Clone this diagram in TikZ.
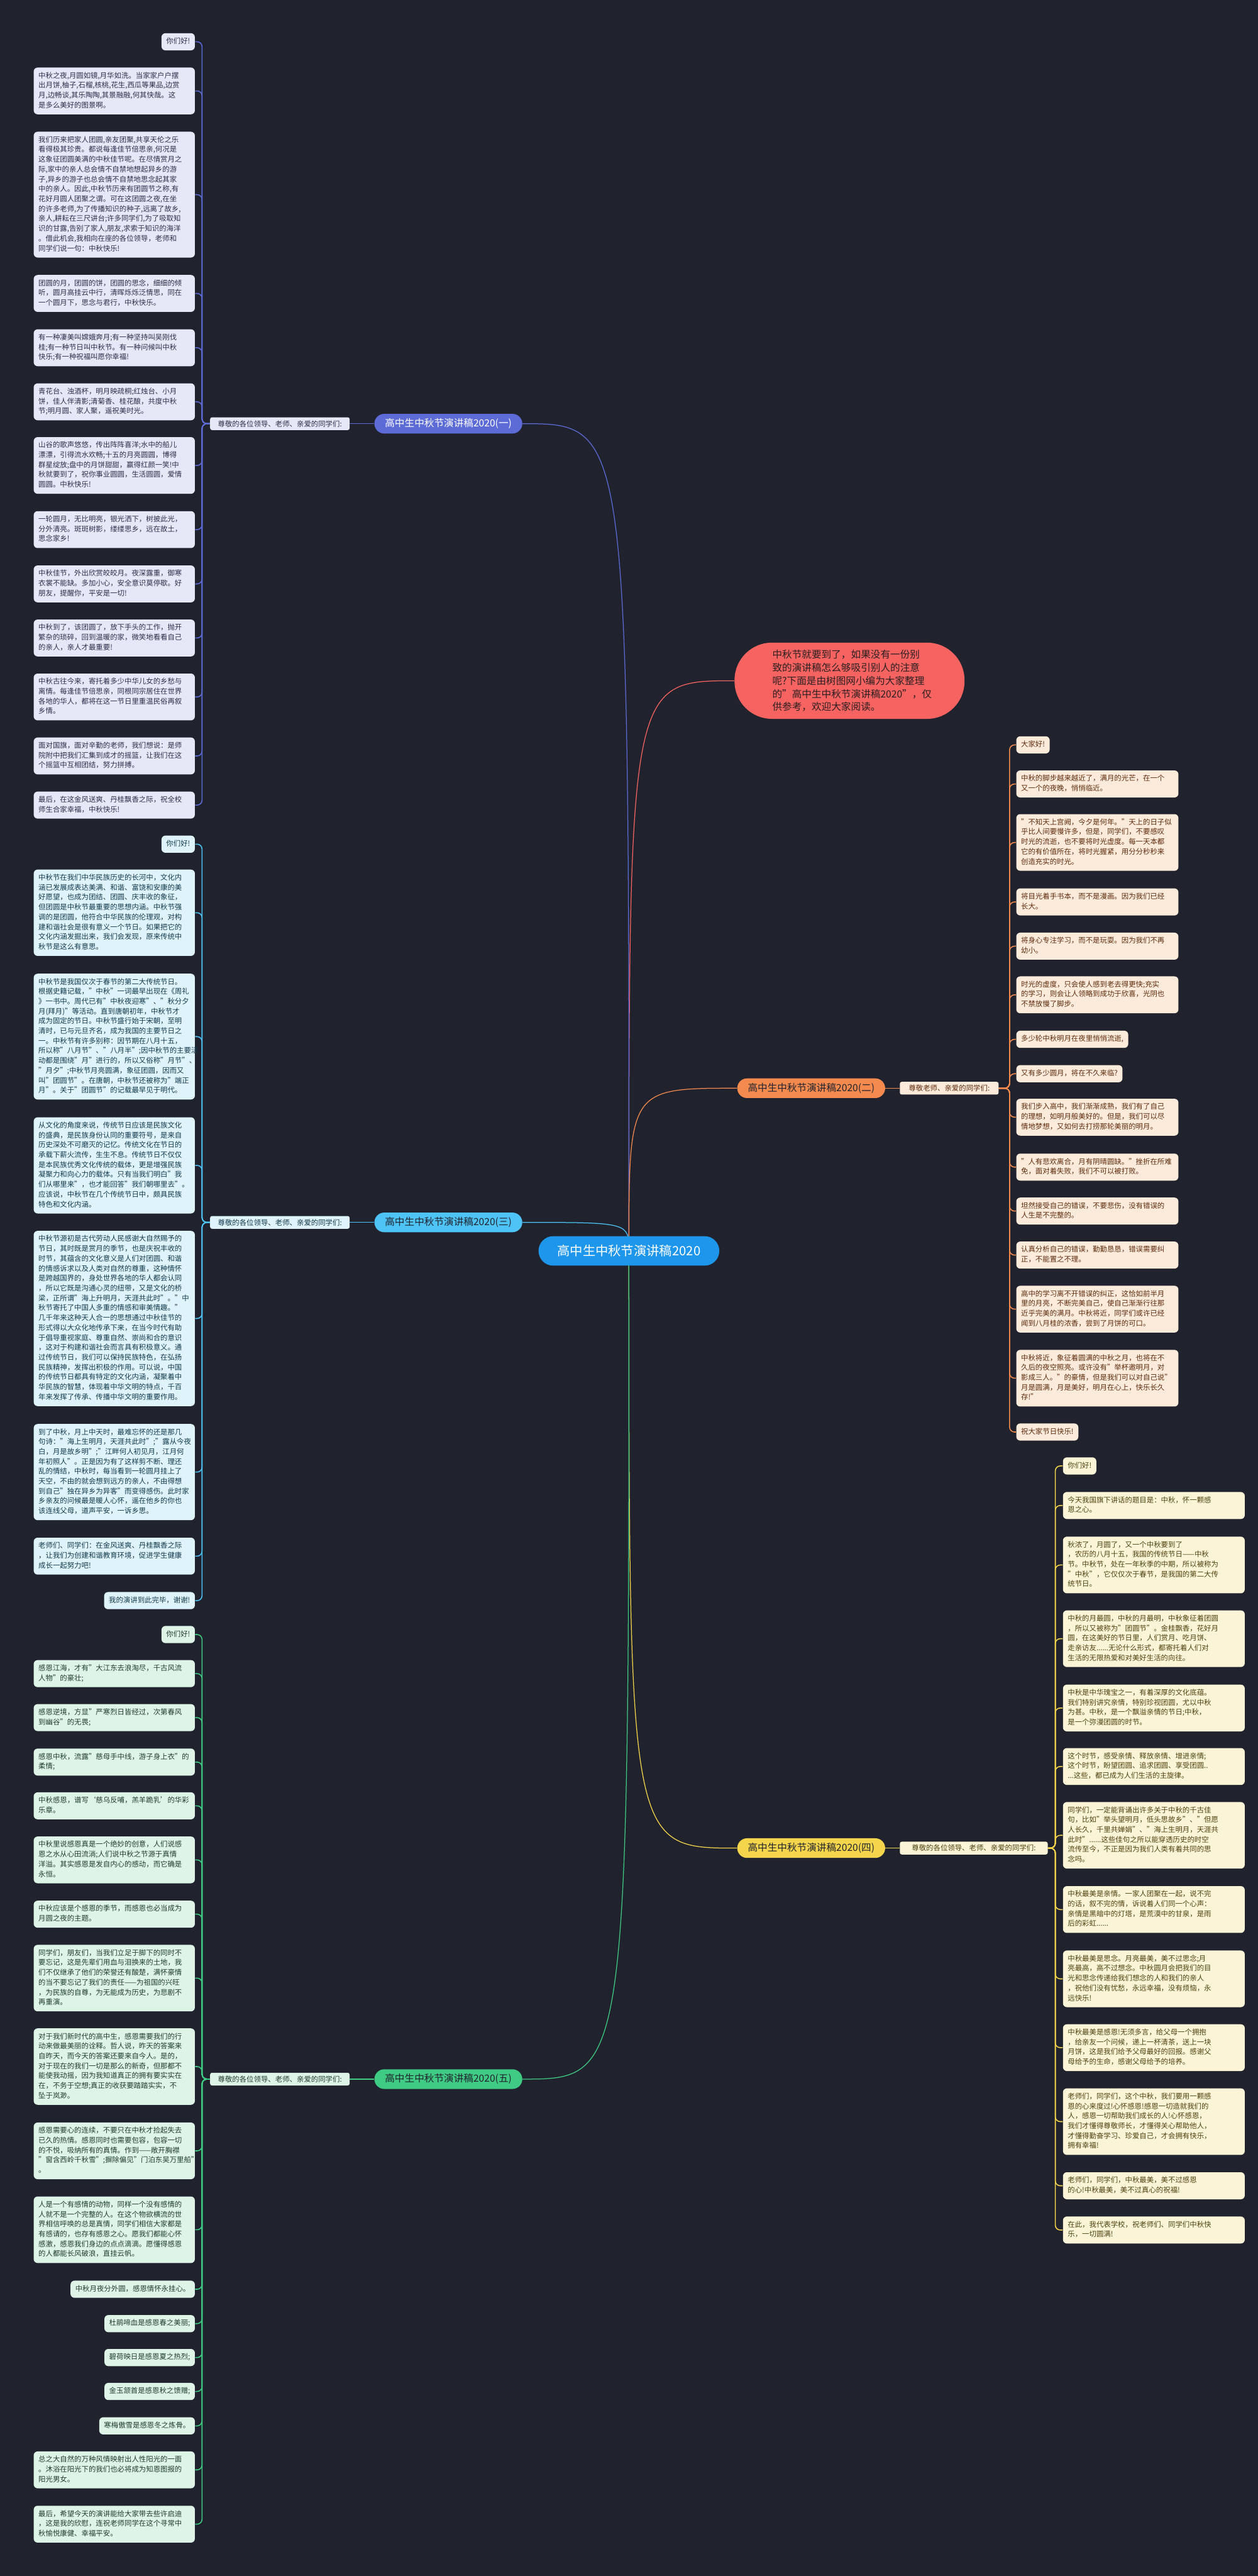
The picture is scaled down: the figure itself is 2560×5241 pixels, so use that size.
\documentclass[tikz,border=0pt]{standalone}
\usepackage{fontspec}
\setmainfont{Noto Sans CJK SC}
\usetikzlibrary{backgrounds}

\definecolor{bg}{HTML}{20232E}
\definecolor{rootc}{HTML}{1E96EB}
\definecolor{introc}{HTML}{F66360}
\definecolor{introtext}{HTML}{2A1F22}
\definecolor{oneline}{HTML}{5C6BD6}
\definecolor{onefill}{HTML}{E6E8F7}
\definecolor{onetext}{HTML}{2C2F4A}
\definecolor{twoline}{HTML}{F58A4F}
\definecolor{twofill}{HTML}{FCEADB}
\definecolor{twotext}{HTML}{5C2C0C}
\definecolor{threeline}{HTML}{4EC3F5}
\definecolor{threefill}{HTML}{DFF3FB}
\definecolor{threetext}{HTML}{123A4C}
\definecolor{fourline}{HTML}{F4D54B}
\definecolor{fourfill}{HTML}{FBF4D6}
\definecolor{fourtext}{HTML}{4D4210}
\definecolor{fiveline}{HTML}{3FCB84}
\definecolor{fivefill}{HTML}{DEF4E7}
\definecolor{fivetext}{HTML}{1F3D2C}

\tikzset{
    leaf/.style={rounded corners=4pt, inner xsep=4.85pt, inner ysep=3.7pt,
        align=left, font=\fontsize{7.3}{10.05}\selectfont,
        execute at begin node=\strut, execute at end node=\strut},
    leafL/.style={leaf, text width=154.3pt},
    leafR/.style={leaf, text width=155.3pt},
    leafW/.style={leaf, text width=175.3pt},
    greet/.style={rounded corners=2pt, inner xsep=6pt, inner ysep=1pt,
        minimum height=13pt, font=\fontsize{7.3}{10.05}\selectfont},
    branch/.style={rounded corners=10pt, minimum width=150.5pt,
        minimum height=20pt, inner sep=0pt, font=\fontsize{10}{12}\selectfont},
    secone/.style={fill=onefill, text=onetext},
    sectwo/.style={fill=twofill, text=twotext},
    secthree/.style={fill=threefill, text=threetext},
    secfour/.style={fill=fourfill, text=fourtext},
    secfive/.style={fill=fivefill, text=fivetext},
    link/.style={line width=1pt, rounded corners=5pt},
    stem/.style={line width=0.8pt}
}

\begin{document}
\begin{tikzpicture}[x=0.5pt, y=-0.5pt]
    \useasboundingbox (0,0) rectangle (2560,5241);

    % centre and intro
    \node [fill=rootc, text=white, rounded corners=15pt, minimum width=184pt,
        minimum height=30pt, font=\fontsize{13}{15}\selectfont]
        (root) at (1280,2545) {高中生中秋节演讲稿2020};
    \node [fill=introc, text=introtext, rounded corners=38pt, text width=157pt,
        inner xsep=38.5pt, minimum height=77.5pt, align=left,
        font=\fontsize{10}{13.35}\selectfont]
        (intro) at (1729,1385)
        {中秋节就要到了，如果没有一份别\\致的演讲稿怎么够吸引别人的注意\\呢?下面是由树图网小编为大家整理\\的"高中生中秋节演讲稿2020"，仅\\供参考，欢迎大家阅读。};

    % branches
    \node [branch, fill=oneline, text=white] (br1) at (912.5,862) {高中生中秋节演讲稿2020(一)};
    \node [branch, fill=twoline, text=bg] (br2) at (1651,2214) {高中生中秋节演讲稿2020(二)};
    \node [branch, fill=threeline, text=bg] (br3) at (912.5,2487) {高中生中秋节演讲稿2020(三)};
    \node [branch, fill=fourline, text=bg] (br4) at (1651,3760) {高中生中秋节演讲稿2020(四)};
    \node [branch, fill=fiveline, text=bg] (br5) at (912.5,4230) {高中生中秋节演讲稿2020(五)};

    \node [greet, secone, minimum width=142pt, anchor=east] (gr1) at (712,862) {尊敬的各位领导、老师、亲爱的同学们:};
    \node [greet, sectwo, minimum width=100.5pt, anchor=west] (gr2) at (1831,2214) {尊敬老师、亲爱的同学们:};
    \node [greet, secthree, minimum width=142pt, anchor=east] (gr3) at (712,2487) {尊敬的各位领导、老师、亲爱的同学们:};
    \node [greet, secfour, minimum width=150.5pt, anchor=west] (gr4) at (1831,3760) {尊敬的各位领导、老师、亲爱的同学们:};
    \node [greet, secfive, minimum width=142pt, anchor=east] (gr5) at (712,4230) {尊敬的各位领导、老师、亲爱的同学们:};

    % (一)
    \node [leaf, secone, anchor=east] (a1) at (397,85) {你们好!};
    \node [leafL, secone, anchor=east] (a2) at (397,185) {中秋之夜,月圆如镜,月华如洗。当家家户户摆\\出月饼,柚子,石榴,核桃,花生,西瓜等果品,边赏\\月,边畅谈,其乐陶陶,其景融融,何其快哉。这\\是多么美好的图景啊。};
    \node [leafL, secone, anchor=east] (a3) at (397,396) {我们历来把家人团圆,亲友团聚,共享天伦之乐\\看得极其珍贵。都说每逢佳节倍思亲,何况是\\这象征团圆美满的中秋佳节呢。在尽情赏月之\\际,家中的亲人总会情不自禁地想起异乡的游\\子,异乡的游子也总会情不自禁地思念起其家\\中的亲人。因此,中秋节历来有团圆节之称,有\\花好月圆人团聚之谓。可在这团圆之夜,在坐\\的许多老师,为了传播知识的种子,远离了故乡,\\亲人,耕耘在三尺讲台;许多同学们,为了吸取知\\识的甘露,告别了家人,朋友,求索于知识的海洋\\。借此机会,我相向在座的各位领导，老师和\\同学们说一句：中秋快乐!};
    \node [leafL, secone, anchor=east] (a4) at (397,597) {团圆的月，团圆的饼，团圆的思念，细细的倾\\听，圆月高挂云中行，清晖烁烁泛情思，同在\\一个圆月下，思念与君行，中秋快乐。};
    \node [leafL, secone, anchor=east] (a5) at (397,707.5) {有一种凄美叫嫦娥奔月;有一种坚持叫吴刚伐\\桂;有一种节日叫中秋节。有一种问候叫中秋\\快乐;有一种祝福叫愿你幸福!};
    \node [leafL, secone, anchor=east] (a6) at (397,817.5) {青花台、浊酒杯，明月映疏桐;红烛台、小月\\饼，佳人伴清影;清菊香、桂花酿，共度中秋\\节;明月圆、家人聚，遥祝美时光。};
    \node [leafL, secone, anchor=east] (a7) at (397,947) {山谷的歌声悠悠，传出阵阵喜洋;水中的船儿\\漂漂，引得流水欢畅;十五的月亮圆圆，博得\\群星绽放;盘中的月饼甜甜，赢得红颜一笑!中\\秋就要到了，祝你事业圆圆，生活圆圆，爱情\\圆圆。中秋快乐!};
    \node [leafL, secone, anchor=east] (a8) at (397,1077.5) {一轮圆月，无比明亮，银光洒下，树披此光，\\分外清亮。斑斑树影，缕缕思乡，远在故土，\\思念家乡!};
    \node [leafL, secone, anchor=east] (a9) at (397,1188) {中秋佳节，外出欣赏皎皎月。夜深露重，御寒\\衣裳不能缺。多加小心，安全意识莫停歇。好\\朋友，提醒你，平安是一切!};
    \node [leafL, secone, anchor=east] (a10) at (397,1298) {中秋到了，该团圆了，放下手头的工作，抛开\\繁杂的琐碎，回到温暖的家，微笑地看看自己\\的亲人，亲人才最重要!};
    \node [leafL, secone, anchor=east] (a11) at (397,1418) {中秋古往今来，寄托着多少中华儿女的乡愁与\\离情。每逢佳节倍思亲，同根同宗居住在世界\\各地的华人，都将在这一节日里重温民俗再叙\\乡情。};
    \node [leafL, secone, anchor=east] (a12) at (397,1538) {面对国旗，面对辛勤的老师，我们想说：是师\\院附中把我们汇集到成才的摇篮，让我们在这\\个摇篮中互相团结，努力拼搏。};
    \node [leafL, secone, anchor=east] (a13) at (397,1638) {最后，在这金风送爽、丹桂飘香之际，祝全校\\师生合家幸福，中秋快乐!};

    % (三)
    \node [leaf, secthree, anchor=east] (c1) at (397,1717.5) {你们好!};
    \node [leafL, secthree, anchor=east] (c2) at (397,1857) {中秋节在我们中华民族历史的长河中，文化内\\涵已发展成表达美满、和谐、富饶和安康的美\\好愿望，也成为团结、团圆、庆丰收的象征，\\但团圆是中秋节最重要的思想内涵。中秋节强\\调的是团圆，他符合中华民族的伦理观，对构\\建和谐社会是很有意义一个节日。如果把它的\\文化内涵发掘出来，我们会发现，原来传统中\\秋节是这么有意思。};
    \node [leafL, secthree, anchor=east] (c3) at (397,2109) {中秋节是我国仅次于春节的第二大传统节日。\\根据史籍记载，"中秋"一词最早出现在《周礼\\》一书中。周代已有"中秋夜迎寒"、"秋分夕\\月(拜月)"等活动。直到唐朝初年，中秋节才\\成为固定的节日。中秋节盛行始于宋朝，至明\\清时，已与元旦齐名，成为我国的主要节日之\\一。中秋节有许多别称：因节期在八月十五，\\所以称"八月节"、"八月半";因中秋节的主要活\\动都是围绕"月"进行的，所以又俗称"月节"、\\"月夕";中秋节月亮圆满，象征团圆，因而又\\叫"团圆节"。在唐朝，中秋节还被称为"端正\\月"。关于"团圆节"的记载最早见于明代。};
    \node [leafL, secthree, anchor=east] (c4) at (397,2371) {从文化的角度来说，传统节日应该是民族文化\\的盛典，是民族身份认同的重要符号，是来自\\历史深处不可磨灭的记忆。传统文化在节日的\\承载下薪火流传，生生不息。传统节日不仅仅\\是本民族优秀文化传统的载体，更是增强民族\\凝聚力和向心力的载体。只有当我们明白"我\\们从哪里来"，也才能回答"我们朝哪里去"。\\应该说，中秋节在几个传统节日中，颇具民族\\特色和文化内涵。};
    \node [leafL, secthree, anchor=east] (c5) at (397,2682.5) {中秋节源初是古代劳动人民感谢大自然赐予的\\节日，其时既是赏月的季节，也是庆祝丰收的\\时节，其蕴含的文化意义是人们对团圆、和谐\\的情感诉求以及人类对自然的尊重，这种情怀\\是跨越国界的，身处世界各地的华人都会认同\\，所以它既是沟通心灵的纽带，又是文化的桥\\梁，正所谓"海上升明月，天涯共此时"。"中\\秋节寄托了中国人多重的情感和审美情趣。"\\几千年来这种天人合一的思想通过中秋佳节的\\形式得以大众化地传承下来，在当今时代有助\\于倡导重视家庭、尊重自然、崇尚和合的意识\\，这对于构建和谐社会而言具有积极意义。通\\过传统节日，我们可以保持民族特色，在弘扬\\民族精神，发挥出积极的作用。可以说，中国\\的传统节日都具有特定的文化内涵，凝聚着中\\华民族的智慧，体现着中华文明的特点，千百\\年来发挥了传承、传播中华文明的重要作用。};
    \node [leafL, secthree, anchor=east] (c6) at (397,2995) {到了中秋，月上中天时，最难忘怀的还是那几\\句诗："海上生明月，天涯共此时";"露从今夜\\白，月是故乡明";"江畔何人初见月，江月何\\年初照人"。正是因为有了这样剪不断、理还\\乱的情结，中秋时，每当看到一轮圆月挂上了\\天空，不由的就会想到远方的亲人，不由得想\\到自己"独在异乡为异客"而变得感伤。此时家\\乡亲友的问候最是暖人心怀，遥在他乡的你也\\该连线父母，道声平安，一诉乡思。};
    \node [leafL, secthree, anchor=east] (c7) at (397,3166) {老师们、同学们：在金风送爽、丹桂飘香之际\\，让我们为创建和谐教育环境，促进学生健康\\成长一起努力吧!};
    \node [leaf, secthree, anchor=east] (c8) at (397,3256.5) {我的演讲到此完毕，谢谢!};

    % (五)
    \node [leaf, secfive, anchor=east] (e1) at (397,3325.5) {你们好!};
    \node [leafL, secfive, anchor=east] (e2) at (397,3405) {感恩江海，才有"大江东去浪淘尽，千古风流\\人物"的豪壮;};
    \node [leafL, secfive, anchor=east] (e3) at (397,3494.5) {感恩逆境，方显"严寒烈日皆经过，次第春风\\到幽谷"的无畏;};
    \node [leafL, secfive, anchor=east] (e4) at (397,3585) {感恩中秋，流露"慈母手中线，游子身上衣"的\\柔情;};
    \node [leafL, secfive, anchor=east] (e5) at (397,3674) {中秋感恩，谱写‘慈乌反哺，羔羊跪乳’的华彩\\乐章。};
    \node [leafL, secfive, anchor=east] (e6) at (397,3784) {中秋里说感恩真是一个绝妙的创意，人们说感\\恩之水从心田流淌;人们说中秋之节源于真情\\洋溢。其实感恩是发自内心的感动，而它确是\\永恒。};
    \node [leafL, secfive, anchor=east] (e7) at (397,3894.5) {中秋应该是个感恩的季节，而感恩也必当成为\\月圆之夜的主题。};
    \node [leafL, secfive, anchor=east] (e8) at (397,4024.5) {同学们，朋友们，当我们立足于脚下的同时不\\要忘记，这是先辈们用血与泪换来的土地，我\\们不仅继承了他们的荣誉还有酸楚，满怀豪情\\的当不要忘记了我们的责任——为祖国的兴旺\\，为民族的自尊，为无能成为历史，为悲剧不\\再重演。};
    \node [leafL, secfive, anchor=east] (e9) at (397,4204.5) {对于我们新时代的高中生，感恩需要我们的行\\动来做最美丽的诠释。哲人说，昨天的答案来\\自昨天，而今天的答案还要来自今人。是的，\\对于现在的我们一切是那么的新奇，但那都不\\能使我动摇，因为我知道真正的拥有要实实在\\在，不务于空想;真正的收获要踏踏实实，不\\坠于岚渺。};
    \node [leafL, secfive, anchor=east] (e10) at (397,4376) {感恩需要心的连续，不要只在中秋才捡起失去\\已久的热情。感恩同时也需要包容，包容一切\\的不悦，吸纳所有的真情。作到——敞开胸襟\\"窗含西岭千秋雪";摒除偏见"门泊东吴万里船"\\。};
    \node [leafL, secfive, anchor=east] (e11) at (397,4536.5) {人是一个有感情的动物，同样一个没有感情的\\人就不是一个完整的人。在这个物欲横流的世\\界相信呼唤的总是真情，同学们相信大家都是\\有感请的，也存有感恩之心。愿我们都能心怀\\感激，感恩我们身边的点点滴滴。愿懂得感恩\\的人都能长风破浪，直挂云帆。};
    \node [leaf, secfive, anchor=east] (e12) at (397,4657.5) {中秋月夜分外圆，感恩情怀永挂心。};
    \node [leaf, secfive, anchor=east] (e13) at (397,4727.5) {杜鹃啼血是感恩春之美丽;};
    \node [leaf, secfive, anchor=east] (e14) at (397,4796.5) {碧荷映日是感恩夏之热烈;};
    \node [leaf, secfive, anchor=east] (e15) at (397,4865.5) {金玉颔首是感恩秋之馈赠;};
    \node [leaf, secfive, anchor=east] (e16) at (397,4935.5) {寒梅傲雪是感恩冬之炼骨。};
    \node [leafL, secfive, anchor=east] (e17) at (397,5025) {总之大自然的万种风情映射出人性阳光的一面\\。沐浴在阳光下的我们也必将成为知恩图报的\\阳光男女。};
    \node [leafL, secfive, anchor=east] (e18) at (397,5135.5) {最后，希望今天的演讲能给大家带去些许启迪\\，这是我的欣慰，连祝老师同学在这个寻常中\\秋愉悦康健、幸福平安。};

    % (二)
    \node [leaf, sectwo, anchor=west] (b1) at (2068,1515.5) {大家好!};
    \node [leafR, sectwo, anchor=west] (b2) at (2068,1595) {中秋的脚步越来越近了，满月的光芒，在一个\\又一个的夜晚，悄悄临近。};
    \node [leafR, sectwo, anchor=west] (b3) at (2068,1714) {"不知天上宫阙，今夕是何年。"天上的日子似\\乎比人间要慢许多，但是，同学们，不要感叹\\时光的流逝，也不要将时光虚度。每一天本都\\它的有价值所在，将时光握紧，用分分秒秒来\\创造充实的时光。};
    \node [leafR, sectwo, anchor=west] (b4) at (2068,1835) {将目光着手书本，而不是漫画。因为我们已经\\长大。};
    \node [leafR, sectwo, anchor=west] (b5) at (2068,1925) {将身心专注学习，而不是玩耍。因为我们不再\\幼小。};
    \node [leafR, sectwo, anchor=west] (b6) at (2068,2024) {时光的虚度，只会使人感到老去得更快;充实\\的学习，则会让人领略到成功于欣喜，光阴也\\不禁放慢了脚步。};
    \node [leaf, sectwo, anchor=west] (b7) at (2068,2114.5) {多少轮中秋明月在夜里悄悄流逝,};
    \node [leaf, sectwo, anchor=west] (b8) at (2068,2184.5) {又有多少圆月，将在不久来临?};
    \node [leafR, sectwo, anchor=west] (b9) at (2068,2273) {我们步入高中，我们渐渐成熟，我们有了自己\\的理想，如明月般美好的。但是，我们可以尽\\情地梦想，又如何去打捞那轮美丽的明月。};
    \node [leafR, sectwo, anchor=west] (b10) at (2068,2374.5) {"人有悲欢离合，月有阴晴圆缺。"挫折在所难\\免，面对着失败，我们不可以被打败。};
    \node [leafR, sectwo, anchor=west] (b11) at (2068,2464) {坦然接受自己的错误，不要悲伤，没有错误的\\人生是不完整的。};
    \node [leafR, sectwo, anchor=west] (b12) at (2068,2553.5) {认真分析自己的错误，勤勤恳恳，错误需要纠\\正，不能置之不理。};
    \node [leafR, sectwo, anchor=west] (b13) at (2068,2663.5) {高中的学习离不开错误的纠正，这恰如前半月\\里的月亮，不断完美自己，使自己渐渐行往那\\近乎完美的满月。中秋将近，同学们或许已经\\闻到八月桂的浓香，尝到了月饼的可口。};
    \node [leafR, sectwo, anchor=west] (b14) at (2068,2804) {中秋将近，象征着圆满的中秋之月，也将在不\\久后的夜空照亮。或许没有"举杯邀明月，对\\影成三人。"的豪情，但是我们可以对自己说"\\月是圆满，月是美好，明月在心上，快乐长久\\存!"};
    \node [leaf, sectwo, anchor=west] (b15) at (2068,2913.5) {祝大家节日快乐!};

    % (四)
    \node [leaf, secfour, anchor=west] (d1) at (2163,2982.5) {你们好!};
    \node [leafW, secfour, anchor=west] (d2) at (2163,3063) {今天我国旗下讲话的题目是：中秋，怀一颗感\\恩之心。};
    \node [leafW, secfour, anchor=west] (d3) at (2163,3184) {秋浓了，月圆了，又一个中秋要到了\\，农历的八月十五，我国的传统节日——中秋\\节。中秋节，处在一年秋季的中期，所以被称为\\"中秋"，它仅仅次于春节，是我国的第二大传\\统节日。};
    \node [leafW, secfour, anchor=west] (d4) at (2163,3334) {中秋的月最圆，中秋的月最明，中秋象征着团圆\\，所以又被称为"团圆节"。金桂飘香，花好月\\圆，在这美好的节日里，人们赏月、吃月饼、\\走亲访友......无论什么形式，都寄托着人们对\\生活的无限热爱和对美好生活的向往。};
    \node [leafW, secfour, anchor=west] (d5) at (2163,3475) {中秋是中华瑰宝之一，有着深厚的文化底蕴。\\我们特别讲究亲情，特别珍视团圆，尤以中秋\\为甚。中秋，是一个飘溢亲情的节日;中秋，\\是一个弥漫团圆的时节。};
    \node [leafW, secfour, anchor=west] (d6) at (2163,3594) {这个时节，感受亲情、释放亲情、增进亲情;\\这个时节，盼望团圆、追求团圆、享受团圆..\\...这些，都已成为人们生活的主旋律。};
    \node [leafW, secfour, anchor=west] (d7) at (2163,3734) {同学们，一定能背诵出许多关于中秋的千古佳\\句，比如"举头望明月，低头思故乡"、"但愿\\人长久，千里共婵娟"、"海上生明月，天涯共\\此时"......这些佳句之所以能穿透历史的时空\\流传至今，不正是因为我们人类有着共同的思\\念吗。};
    \node [leafW, secfour, anchor=west] (d8) at (2163,3885) {中秋最美是亲情。一家人团聚在一起，说不完\\的话，叙不完的情，诉说着人们同一个心声：\\亲情是黑暗中的灯塔，是荒漠中的甘泉，是雨\\后的彩虹......};
    \node [leafW, secfour, anchor=west] (d9) at (2163,4026) {中秋最美是思念。月亮最美，美不过思念;月\\亮最高，高不过想念。中秋圆月会把我们的目\\光和思念传递给我们想念的人和我们的亲人\\，祝他们没有忧愁，永远幸福，没有烦恼，永\\远快乐!};
    \node [leafW, secfour, anchor=west] (d10) at (2163,4166) {中秋最美是感恩!无须多言，给父母一个拥抱\\，给亲友一个问候，递上一杯清茶，送上一块\\月饼，这是我们给予父母最好的回报。感谢父\\母给予的生命，感谢父母给予的培养。};
    \node [leafW, secfour, anchor=west] (d11) at (2163,4316.5) {老师们，同学们，这个中秋，我们要用一颗感\\恩的心来度过!心怀感恩!感恩一切造就我们的\\人，感恩一切帮助我们成长的人!心怀感恩，\\我们才懂得尊敬师长，才懂得关心帮助他人，\\才懂得勤奋学习、珍爱自己，才会拥有快乐，\\拥有幸福!};
    \node [leafW, secfour, anchor=west] (d12) at (2163,4447) {老师们，同学们，中秋最美，美不过感恩\\的心!中秋最美，美不过真心的祝福!};
    \node [leafW, secfour, anchor=west] (d13) at (2163,4537) {在此，我代表学校，祝老师们、同学们中秋快\\乐，一切圆满!};

    \begin{scope}[on background layer]
        \fill [bg] (0,0) rectangle (2560,5241);

        % stems from the centre
        \draw [stem, introc] (root.center) .. controls (1280,1385) .. (intro.west);
        \draw [stem, oneline] (root.center) .. controls (1280,862) .. (br1.east);
        \draw [stem, twoline] (root.center) .. controls (1280,2214) .. (br2.west);
        \draw [stem, threeline] (root.center) .. controls (1280,2487) .. (br3.east);
        \draw [stem, fourline] (root.center) .. controls (1280,3760) .. (br4.west);
        \draw [stem, fiveline] (root.center) .. controls (1280,4230) .. (br5.east);

        \draw [stem, oneline] (br1.west) -- (gr1.east);
        \draw [stem, twoline] (br2.east) -- (gr2.west);
        \draw [stem, threeline] (br3.west) -- (gr3.east);
        \draw [stem, fourline] (br4.east) -- (gr4.west);
        \draw [stem, fiveline] (br5.west) -- (gr5.east);

        % brackets to the leaves
        \foreach \i in {1,...,13}
            \draw [link, oneline] (gr1.west) -- ++(-16,0) |- (a\i.east);
        \foreach \i in {1,...,8}
            \draw [link, threeline] (gr3.west) -- ++(-16,0) |- (c\i.east);
        \foreach \i in {1,...,18}
            \draw [link, fiveline] (gr5.west) -- ++(-16,0) |- (e\i.east);
        \foreach \i in {1,...,15}
            \draw [link, twoline] (gr2.east) -- ++(22,0) |- (b\i.west);
        \foreach \i in {1,...,13}
            \draw [link, fourline] (gr4.east) -- ++(15,0) |- (d\i.west);
    \end{scope}
\end{tikzpicture}
\end{document}
